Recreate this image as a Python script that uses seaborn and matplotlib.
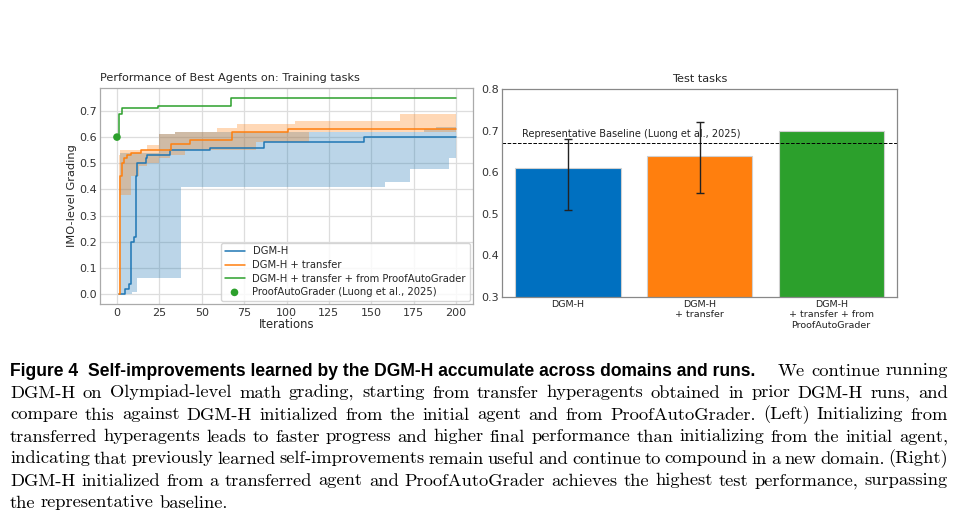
"""Recreate the DGM-H transfer figure: training curves, test bars and caption."""
import matplotlib
matplotlib.use("Agg")
import matplotlib.pyplot as plt
import numpy as np
import seaborn as sns

# ---- left panel: best agent score vs iteration (step change points) ----
dgm_iter = [1, 5, 7, 8, 10, 11, 12, 17, 18, 31, 55, 87, 146, 200]
dgm_mean = [0.0, 0.02, 0.04, 0.20, 0.22, 0.45, 0.50, 0.52, 0.53, 0.55, 0.56, 0.58, 0.60, 0.60]
dgm_band_iter = [2, 9, 12, 25, 34, 38, 158, 173, 181, 188, 196, 200]
dgm_lo = [0.0, 0.01, 0.06, 0.06, 0.06, 0.41, 0.43, 0.48, 0.48, 0.48, 0.52, 0.52]
dgm_hi = [0.54, 0.54, 0.54, 0.61, 0.62, 0.62, 0.62, 0.62, 0.63, 0.64, 0.64, 0.64]

tr_iter = [1, 2, 3, 4, 6, 8, 14, 32, 43, 68, 101, 200]
tr_mean = [0.0, 0.45, 0.50, 0.52, 0.53, 0.54, 0.55, 0.575, 0.59, 0.62, 0.63, 0.63]
tr_band_iter = [1, 2, 8, 13, 18, 25, 31, 34, 40, 59, 71, 82, 105, 113, 167, 200]
tr_lo = [0.0, 0.38, 0.45, 0.49, 0.50, 0.52, 0.53, 0.53, 0.55, 0.55, 0.55, 0.58, 0.58, 0.62, 0.62, 0.62]
tr_hi = [0.53, 0.55, 0.55, 0.55, 0.57, 0.61, 0.61, 0.62, 0.62, 0.635, 0.65, 0.65, 0.66, 0.66, 0.69, 0.69]

pag_iter = [0, 1, 3, 24, 67, 200]
pag_mean = [0.60, 0.69, 0.71, 0.72, 0.75, 0.75]

pag_point_iter = [0]
pag_point_score = [0.60]

line_names = ["DGM-H", "DGM-H + transfer", "DGM-H + transfer + from ProofAutoGrader"]
point_name = "ProofAutoGrader (Luong et al., 2025)"
line_colors = ["#1f77b4", "#ff7f0e", "#2ca02c"]

# ---- right panel: test scores ----
test_labels = ["DGM-H", "DGM-H\n+ transfer", "DGM-H\n+ transfer + from\nProofAutoGrader"]
test_scores = [0.61, 0.64, 0.70]
test_err_lo = [0.51, 0.55]
test_err_hi = [0.68, 0.72]
baseline_score = 0.67
baseline_name = "Representative Baseline (Luong et al., 2025)"
bar_colors = ["#0070c0", "#ff7f0e", "#2ca02c"]

caption_head = "Figure 4  Self-improvements learned by the DGM-H accumulate across domains and runs."
caption_lines = [
    "We continue running",
    "DGM-H on Olympiad-level math grading, starting from transfer hyperagents obtained in prior DGM-H runs, and",
    "compare this against DGM-H initialized from the initial agent and from ProofAutoGrader. (Left) Initializing from",
    "transferred hyperagents leads to faster progress and higher final performance than initializing from the initial agent,",
    "indicating that previously learned self-improvements remain useful and continue to compound in a new domain. (Right)",
    "DGM-H initialized from a transferred agent and ProofAutoGrader achieves the highest test performance, surpassing",
    "the representative baseline.",
]

sns.set_theme(style="whitegrid")
plt.rcParams["font.family"] = ["DejaVu Sans"]

W, H = 960, 520
fig = plt.figure(figsize=(W / 100, H / 100), dpi=100)
ax1 = fig.add_axes([100 / W, 1 - 304 / H, 373 / W, 216 / H])
ax2 = fig.add_axes([502 / W, 1 - 297 / H, 395 / W, 208 / H])

# left panel
ax1.fill_between(dgm_band_iter, dgm_lo, dgm_hi, step="post", color=line_colors[0], alpha=0.3, lw=0)
ax1.fill_between(tr_band_iter, tr_lo, tr_hi, step="post", color=line_colors[1], alpha=0.3, lw=0)
for it, m, name, c in zip([dgm_iter, tr_iter, pag_iter], [dgm_mean, tr_mean, pag_mean],
                          line_names, line_colors):
    sns.lineplot(x=it, y=m, drawstyle="steps-post", color=c, lw=1.1, label=name,
                 errorbar=None, ax=ax1)
sns.scatterplot(x=pag_point_iter, y=pag_point_score, color=line_colors[2], s=30,
                edgecolor="none", zorder=5, label=point_name, ax=ax1)

ax1.set_xlim(-10, 210)
ax1.set_ylim(-0.0375, 0.7875)
ax1.set_xticks(range(0, 201, 25))
ax1.set_yticks(np.arange(0, 0.71, 0.1))
ax1.set_yticklabels([f"{v:.1f}" for v in np.arange(0, 0.71, 0.1)])
ax1.tick_params(labelsize=8, length=0, colors="#333333")
ax1.tick_params(axis="x", pad=3)
ax1.tick_params(axis="y", pad=2)
ax1.set_xlabel("Iterations", fontsize=8.4, labelpad=0)
ax1.set_ylabel("IMO-level Grading", fontsize=8.2, labelpad=2)
ax1.set_title("Performance of Best Agents on: Training tasks", loc="left", fontsize=8.1, pad=5)
ax1.grid(color="#dddddd", lw=0.9)
for s in ax1.spines.values():
    s.set_color("#aaaaaa")
    s.set_linewidth(0.9)
leg = ax1.legend(loc="lower right", fontsize=7.2, frameon=True, borderaxespad=0.3,
                 labelspacing=0.35)
leg.get_frame().set_edgecolor("#cccccc")

# right panel
sns.barplot(x=test_labels, y=test_scores, hue=test_labels, palette=bar_colors, legend=False,
            saturation=1, width=0.8, edgecolor="#d0d0d0", linewidth=0.8, ax=ax2)
yerr = [np.subtract(test_scores[:2], test_err_lo), np.subtract(test_err_hi, test_scores[:2])]
ax2.errorbar(x=[0, 1], y=test_scores[:2], yerr=yerr, fmt="none", ecolor="#222222",
             elinewidth=1.0, capsize=3, capthick=1.0)
ax2.axhline(baseline_score, color="black", ls="--", lw=0.7)
ax2.text(-0.35, baseline_score + 0.021, baseline_name, fontsize=7, va="center", color="#222222")
ax2.set_xlim(-0.5, 2.5)
ax2.set_ylim(0.3, 0.8)
ax2.set_yticks(np.arange(0.3, 0.81, 0.1))
ax2.set_yticklabels([f"{v:.1f}" for v in np.arange(0.3, 0.81, 0.1)])
ax2.grid(False)
ax2.tick_params(axis="y", length=0, labelsize=8, pad=2, labelcolor="#333333")
ax2.tick_params(axis="x", length=0, labelsize=6.8, pad=2, labelcolor="#222222")
ax2.set_title("Test tasks", fontsize=8.1, pad=5)
for s in ax2.spines.values():
    s.set_color("#888888")
    s.set_linewidth(0.9)

# caption, justified like the LaTeX source
fig.canvas.draw()
renderer = fig.canvas.get_renderer()
serif = dict(family=["cmr10", "DejaVu Serif"], size=10.0)
bold = dict(family=["Liberation Sans", "DejaVu Sans"], weight="bold", size=12.6)

x0, x1 = 10, 948
base0, step = 375.5, 22
px_per_pt = 100 / 72
space_em = 0.2

# pick the serif size so the tightest full line still keeps some word spacing
sizes = []
for line in caption_lines[1:-1]:
    words = line.split()
    probe = [fig.text(0, 0, w, **serif) for w in words]
    per_pt = sum(p.get_window_extent(renderer).width for p in probe) / serif["size"]
    for p in probe:
        p.remove()
    sizes.append((x1 - x0) / (per_pt + (len(words) - 1) * space_em * px_per_pt))
serif["size"] = float(min(sizes))


def place(words, y_px, left, right, fill=True):
    objs = [fig.text(0, 1 - y_px / H, w, va="baseline", color="black", **serif) for w in words]
    widths = [o.get_window_extent(renderer).width for o in objs]
    space = serif["size"] * px_per_pt * 0.3
    gap = (right - left - sum(widths)) / max(len(objs) - 1, 1) if fill else space
    x = left
    for o, w in zip(objs, widths):
        o.set_x(x / W)
        x += w + gap


head = fig.text(x0 / W, 1 - base0 / H, caption_head, va="baseline", color="black", **bold)
hw = head.get_window_extent(renderer).width
head.set_fontsize(bold["size"] * 748 / hw)
place(caption_lines[0].split(), base0, 778, x1)
for i, line in enumerate(caption_lines[1:], start=1):
    place(line.split(), base0 + i * step, x0, x1, fill=i < len(caption_lines) - 1)

fig.savefig("out.png", dpi=100)
